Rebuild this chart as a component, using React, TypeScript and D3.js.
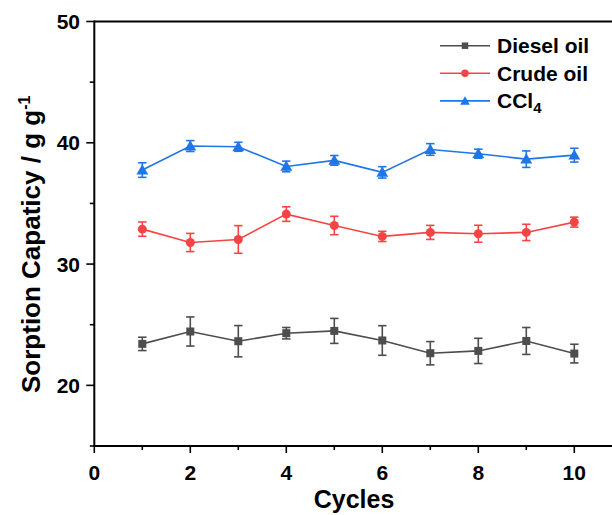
import React from "react";
import * as d3 from "d3";

const cycles = [1, 2, 3, 4, 5, 6, 7, 8, 9, 10];
const dieselValues = [23.42, 24.44, 23.64, 24.3, 24.49, 23.7, 22.65, 22.84, 23.66, 22.62];
const dieselErrors = [0.55, 1.2, 1.29, 0.47, 1.03, 1.22, 0.96, 1.04, 1.11, 0.77];
const crudeValues = [32.88, 31.78, 32.03, 34.12, 33.18, 32.28, 32.61, 32.5, 32.61, 33.46];
const crudeErrors = [0.59, 0.75, 1.14, 0.6, 0.76, 0.42, 0.58, 0.7, 0.67, 0.41];
const ccl4Values = [37.75, 39.73, 39.67, 38.05, 38.55, 37.56, 39.45, 39.1, 38.65, 38.98];
const ccl4Errors = [0.6, 0.45, 0.37, 0.44, 0.4, 0.47, 0.48, 0.37, 0.68, 0.57];
const xTickValues = [0, 2, 4, 6, 8, 10];
const xMinorTicks = [1, 3, 5, 7, 9, 11];
const yTickValues = [20, 30, 40, 50];
const yMinorTicks = [15, 25, 35, 45];

const W = 612;
const H = 515;
const left = 94.3;
const top = 21.5;
const bottom = 446;

const x = d3.scaleLinear().domain([0, 11]).range([left, left + 11 * 48]);
const y = d3.scaleLinear().domain([15, 50]).range([bottom, top]);

type Series = { name: string; values: number[]; errors: number[]; color: string; marker: string };
const series: Series[] = [
  { name: "Diesel oil", values: dieselValues, errors: dieselErrors, color: "#4d4d4d", marker: "square" },
  { name: "Crude oil", values: crudeValues, errors: crudeErrors, color: "#f54444", marker: "circle" },
  { name: "CCl4", values: ccl4Values, errors: ccl4Errors, color: "#1f76e6", marker: "triangle" },
];

const font = "Arial, 'Liberation Sans', Helvetica, sans-serif";

function Marker({ type, cx, cy, color, size }: { type: string; cx: number; cy: number; color: string; size: number }) {
  if (type === "square") {
    return <rect x={cx - size / 2} y={cy - size / 2} width={size} height={size} fill={color} />;
  }
  if (type === "circle") {
    return <circle cx={cx} cy={cy} r={size / 2 + 0.5} fill={color} />;
  }
  const sym = d3.symbol().type(d3.symbolTriangle).size(size * size * 0.95)();
  return <path d={sym || ""} transform={`translate(${cx},${cy + 1})`} fill={color} />;
}

export default function App() {
  const line = d3
    .line<number>()
    .x((_, i) => x(cycles[i]))
    .y((d) => y(d));

  return (
    <svg
      width={W}
      height={H}
      style={{ position: "absolute", left: 0, top: 0, background: "#fff" }}
      fontFamily={font}
    >
      <rect x={0} y={0} width={W} height={H} fill="#fff" />
      {/* series */}
      {series.map((s) => (
        <g key={s.name}>
          <path d={line(s.values) || ""} fill="none" stroke={s.color} strokeWidth={1.6} />
          {s.values.map((v, i) => {
            const cx = x(cycles[i]);
            const y1 = y(v + s.errors[i]);
            const y2 = y(v - s.errors[i]);
            return (
              <g key={i} stroke={s.color} strokeWidth={1.6}>
                <line x1={cx} x2={cx} y1={y1} y2={y2} />
                <line x1={cx - 4.2} x2={cx + 4.2} y1={y1} y2={y1} />
                <line x1={cx - 4.2} x2={cx + 4.2} y1={y2} y2={y2} />
              </g>
            );
          })}
          {s.values.map((v, i) => (
            <Marker key={"m" + i} type={s.marker} cx={x(cycles[i])} cy={y(v)} color={s.color} size={8} />
          ))}
        </g>
      ))}

      {/* axes */}
      <line x1={left} x2={W} y1={top} y2={top} stroke="#000" strokeWidth={2} />
      <line x1={left} x2={W} y1={bottom} y2={bottom} stroke="#000" strokeWidth={2} />
      <line x1={left} x2={left} y1={top - 1} y2={bottom + 1} stroke="#000" strokeWidth={2} />
      {xTickValues.map((t) => (
        <g key={"xt" + t}>
          <line x1={x(t)} x2={x(t)} y1={bottom} y2={bottom + 7} stroke="#000" strokeWidth={1.6} />
          <text x={x(t)} y={480} textAnchor="middle" fontSize={21} fontWeight="bold">
            {t}
          </text>
        </g>
      ))}
      {xMinorTicks.map((t) => (
        <line key={"xm" + t} x1={x(t)} x2={x(t)} y1={bottom} y2={bottom + 4} stroke="#000" strokeWidth={1.6} />
      ))}
      {yTickValues.map((t) => (
        <g key={"yt" + t}>
          <line x1={left - 8} x2={left} y1={y(t)} y2={y(t)} stroke="#000" strokeWidth={1.6} />
          <text x={80} y={y(t) + 7.5} textAnchor="end" fontSize={21} fontWeight="bold">
            {t}
          </text>
        </g>
      ))}
      {yMinorTicks.map((t) => (
        <line key={"ym" + t} x1={left - 4.5} x2={left} y1={y(t)} y2={y(t)} stroke="#000" strokeWidth={1.6} />
      ))}

      {/* axis titles */}
      <text x={354} y={508} textAnchor="middle" fontSize={25} fontWeight="bold">
        Cycles
      </text>
      <text transform={`translate(40, 393) rotate(-90)`} textAnchor="start" fontSize={26} fontWeight="bold">
        Sorption Capaticy / g g
        <tspan dy={-10} fontSize={16}>
          -1
        </tspan>
      </text>

      {/* legend */}
      {series.map((s, i) => {
        const ly = 45.7 + i * 27.6;
        return (
          <g key={"lg" + s.name}>
            <line x1={440} x2={490} y1={ly} y2={ly} stroke={s.color} strokeWidth={1.6} />
            <Marker type={s.marker} cx={465} cy={ly} color={s.color} size={6.5} />
            <text x={497} y={ly + 7.5} fontSize={21} fontWeight="bold">
              {s.name === "CCl4" ? (
                <>
                  CCl
                  <tspan dy={5} fontSize={15}>
                    4
                  </tspan>
                </>
              ) : (
                s.name
              )}
            </text>
          </g>
        );
      })}
    </svg>
  );
}
